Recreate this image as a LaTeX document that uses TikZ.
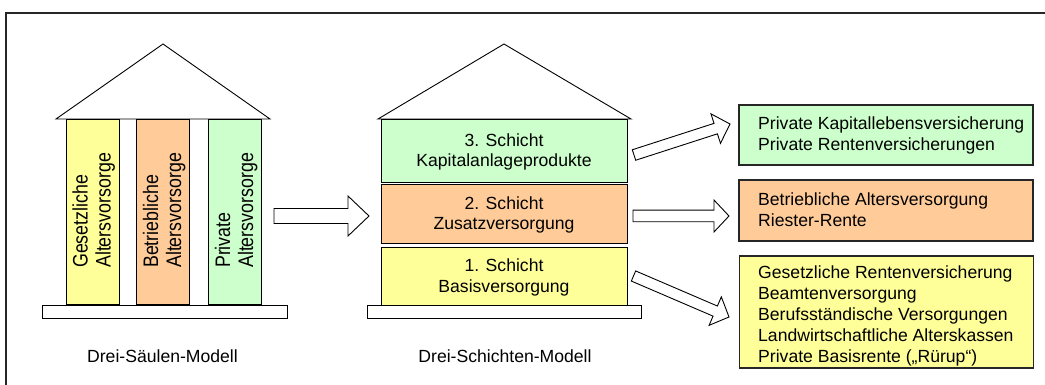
\documentclass[tikz,border=0pt]{standalone}
\usepackage{fontspec}
\setmainfont{Liberation Sans}
\usepackage{graphicx}
\usetikzlibrary{calc}

\definecolor{layerYellow}{HTML}{FFFF99}
\definecolor{layerOrange}{HTML}{FFCC99}
\definecolor{layerGreen}{HTML}{CCFFCC}

% hollow block arrow from tail #1 to tip #2:
% #3 shaft half width, #4 head half width, #5 head length
\newcommand\blockarrow[5]{%
  \coordinate (ba-h) at ($(#2)!#5!(#1)$);
  \draw[blockarrow] ($(#1)!#3!90:(#2)$) -- ($(ba-h)!#3!90:(#2)$)
    -- ($(ba-h)!#4!90:(#2)$) -- (#2) -- ($(ba-h)!#4!-90:(#2)$)
    -- ($(ba-h)!#3!-90:(#2)$) -- ($(#1)!#3!-90:(#2)$) -- cycle;}

% two-line text set upright along a column
\newcommand\pillartext[2]{\scalebox{1}[1.18]{\fontsize{17.8}{19.5}\selectfont
  \begin{tabular}{@{}l@{}}#1\\#2\end{tabular}}}

\tikzset{
  outline/.style={draw=black, line width=0.9pt},
  pillar/.style={outline, inner sep=0pt, minimum width=53pt, minimum height=185pt},
  layer/.style={outline, inner sep=0pt, minimum width=246pt},
  slab/.style={outline, fill=white, inner sep=0pt, minimum height=13pt},
  roof/.style={outline, fill=white},
  listbox/.style={draw=black!85, line width=1.2pt, inner sep=0pt, minimum width=294pt},
  label/.style={inner sep=0pt, font=\fontsize{17.6}{20.5}\selectfont},
  listtext/.style={inner sep=0pt, anchor=west, align=left, font=\fontsize{17.6}{21}\selectfont},
  layertext/.style={inner sep=0pt, align=center, font=\fontsize{17.6}{20.5}\selectfont},
  blockarrow/.style={outline, fill=white, line join=miter},
}

\begin{document}
\begin{tikzpicture}[x=1pt, y=-1pt]
\useasboundingbox (0,0) rectangle (1045,385);

% frame
\draw[line width=1.2pt, black!85] (6,385) -- (6,13) -- (1045,13);

% ---- three pillars ----
\draw[roof] (56,119) -- (163,44) -- (270,119) -- cycle;
\node[pillar, fill=layerYellow] (pA) at (92.5,211.5) {};
\node[pillar, fill=layerOrange] (pB) at (163,211.5) {};
\node[pillar, fill=layerGreen]  (pC) at (235,211.5) {};
\node[slab, minimum width=245pt] (slabA) at (164.5,311.5) {};
\node[rotate=90, anchor=west, inner sep=0pt] (tA) at (94.5,268) {\pillartext{Gesetzliche}{Altersvorsorge}};
\node[rotate=90, anchor=west, inner sep=0pt] (tB) at (165,268) {\pillartext{Betriebliche}{Altersvorsorge}};
\node[rotate=90, anchor=west, inner sep=0pt] (tC) at (237,268) {\pillartext{Private}{Altersvorsorge}};
\node[label, anchor=base] (capA) at (162.5,362) {Drei-Säulen-Modell};

% ---- three layers ----
\draw[roof] (378,119) -- (504,44) -- (631,119) -- cycle;
\node[layer, fill=layerGreen,  minimum height=63pt] (l3) at (504,150.5) {};
\node[layer, fill=layerOrange, minimum height=59pt] (l2) at (504,213.5) {};
\node[layer, fill=layerYellow, minimum height=59pt] (l1) at (504,276.5) {};
\node[slab, minimum width=274pt] (slabB) at (504,312) {};
\node[layertext] (t3) at (504,152.5) {\strut 3. Schicht\\\strut Kapitalanlageprodukte};
\node[layertext] (t2) at (504,215.5) {\strut 2. Schicht\\\strut Zusatzversorgung};
\node[layertext] (t1) at (504,278) {\strut 1. Schicht\\\strut Basisversorgung};
\node[label, anchor=base] (capB) at (505,362) {Drei-Schichten-Modell};

% ---- product lists ----
\node[listbox, fill=layerGreen,  minimum height=60pt]  (bG) at (886,135) {};
\node[listbox, fill=layerOrange, minimum height=61pt]  (bO) at (886,210.5) {};
\node[listbox, fill=layerYellow, minimum height=112pt] (bY) at (886.5,312) {};
\node[listtext] (xG) at (758,136) {\strut Private Kapitallebensversicherung\\\strut Private Rentenversicherungen};
\node[listtext] (xO) at (758,212) {\strut Betriebliche Altersversorgung\\\strut Riester-Rente};
\node[listtext] (xY) at (758,316) {\strut Gesetzliche Rentenversicherung\\\strut Beamtenversorgung\\\strut Berufsständische Versorgungen\\\strut Landwirtschaftliche Alterskassen\\\strut Private Basisrente („Rürup“)};

% ---- arrows ----
\coordinate (a0) at (274,216);   \coordinate (b0) at (369,216);
\coordinate (a3) at (634,155);   \coordinate (b3) at (730,124);
\coordinate (a2) at (633,216);   \coordinate (b2) at (729,216);
\coordinate (a1) at (633.5,276); \coordinate (b1) at (729,317);
\blockarrow{a0}{b0}{7.5pt}{20pt}{21pt}
\blockarrow{a3}{b3}{5.5pt}{15.5pt}{15pt}
\blockarrow{a2}{b2}{5.8pt}{16pt}{15pt}
\blockarrow{a1}{b1}{5.5pt}{15.5pt}{15pt}
\end{tikzpicture}
\end{document}
